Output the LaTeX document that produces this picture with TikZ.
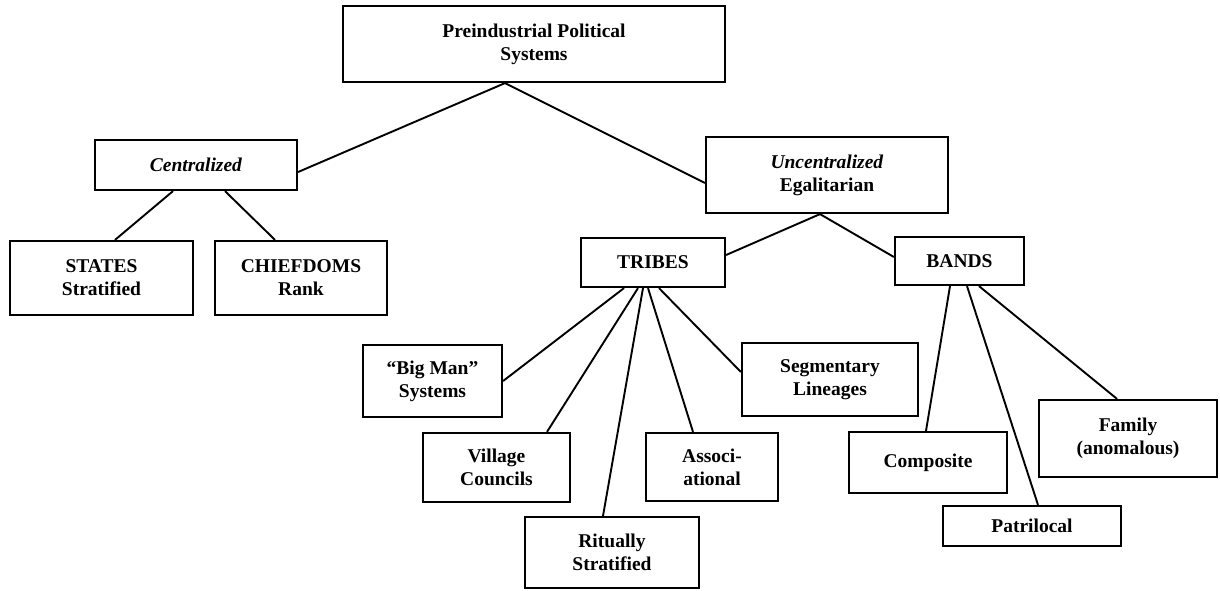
\documentclass[tikz,border=0pt]{standalone}
\usepackage{fontspec}
\setmainfont{Liberation Serif}
\usepackage{tikz}

\begin{document}
\begin{tikzpicture}[
    x=1pt, y=-1pt,
    box/.style={
        rectangle, draw, line width=2.2pt,
        inner sep=0pt, align=center,
        font=\fontsize{19.5}{23}\selectfont\bfseries
    },
    link/.style={
        line width=1.9pt, draw=black
    }
]
\useasboundingbox (0,0) rectangle (1220,591);

% — Top level —
\node[box, minimum width=382pt, minimum height=76pt] (pps) at (534,44)
    {Preindustrial Political\\Systems};

% — Second level —
\node[box, minimum width=202pt, minimum height=50pt] (central) at (196,165)
    {\textit{Centralized}};
\node[box, minimum width=242pt, minimum height=76pt] (uncent) at (827,175)
    {\textit{Uncentralized}\\Egalitarian};

% — Centralized branch —
\node[box, minimum width=183pt, minimum height=74pt] (states) at (101.5,278)
    {STATES\\Stratified};
\node[box, minimum width=172pt, minimum height=74pt] (chief) at (301,278)
    {CHIEFDOMS\\Rank};

% — Uncentralized branch —
\node[box, minimum width=144pt, minimum height=49pt] (tribes) at (653,262.5)
    {TRIBES};
\node[box, minimum width=129pt, minimum height=48pt] (bands) at (959.5,261)
    {BANDS};

% — Kinds of tribes —
\node[box, minimum width=139pt, minimum height=72pt] (bigman) at (432.5,381)
    {``Big Man''\\Systems};
\node[box, minimum width=176pt, minimum height=73pt] (segm) at (830,379.5)
    {Segmentary\\Lineages};
\node[box, minimum width=147pt, minimum height=69pt] (village) at (496.5,467.5)
    {Village\\Councils};
\node[box, minimum width=132pt, minimum height=68pt] (assoc) at (712,467)
    {Associ-\\ational};
\node[box, minimum width=174pt, minimum height=71pt] (ritual) at (612,552.5)
    {Ritually\\Stratified};

% — Kinds of bands —
\node[box, minimum width=158pt, minimum height=61pt] (comp) at (928,462.5)
    {Composite};
\node[box, minimum width=178pt, minimum height=40pt] (patri) at (1032,526)
    {Patrilocal};
\node[box, minimum width=178pt, minimum height=77pt] (family) at (1128,438.5)
    {Family\\(anomalous)};

% — Connectors —
\draw[link] ([xshift=-29pt]pps.south) -- ([yshift=-7pt]central.east);
\draw[link] ([xshift=-29pt]pps.south) -- ([yshift=-8pt]uncent.west);

\draw[link] ([xshift=-23pt]central.south) -- ([xshift=13.5pt]states.north);
\draw[link] ([xshift=29pt]central.south)  -- ([xshift=-26pt]chief.north);

\draw[link] ([xshift=-7pt]uncent.south) -- ([yshift=7.5pt]tribes.east);
\draw[link] ([xshift=-7pt]uncent.south) -- ([yshift=4pt]bands.west);

\draw[link] ([xshift=-29pt]tribes.south) -- (bigman.east);
\draw[link] ([xshift=-15pt]tribes.south) -- ([xshift=50.5pt]village.north);
\draw[link] ([xshift=-10pt]tribes.south) -- ([xshift=-9pt]ritual.north);
\draw[link] ([xshift=-5pt]tribes.south)  -- ([xshift=-19pt]assoc.north);
\draw[link] ([xshift=6pt]tribes.south)   -- ([yshift=7.5pt]segm.west);

\draw[link] ([xshift=-9.5pt]bands.south) -- ([xshift=-2pt]comp.north);
\draw[link] ([xshift=7.5pt]bands.south)  -- ([xshift=6pt]patri.north);
\draw[link] ([xshift=19.5pt]bands.south) -- ([xshift=-11pt]family.north);

\end{tikzpicture}
\end{document}
